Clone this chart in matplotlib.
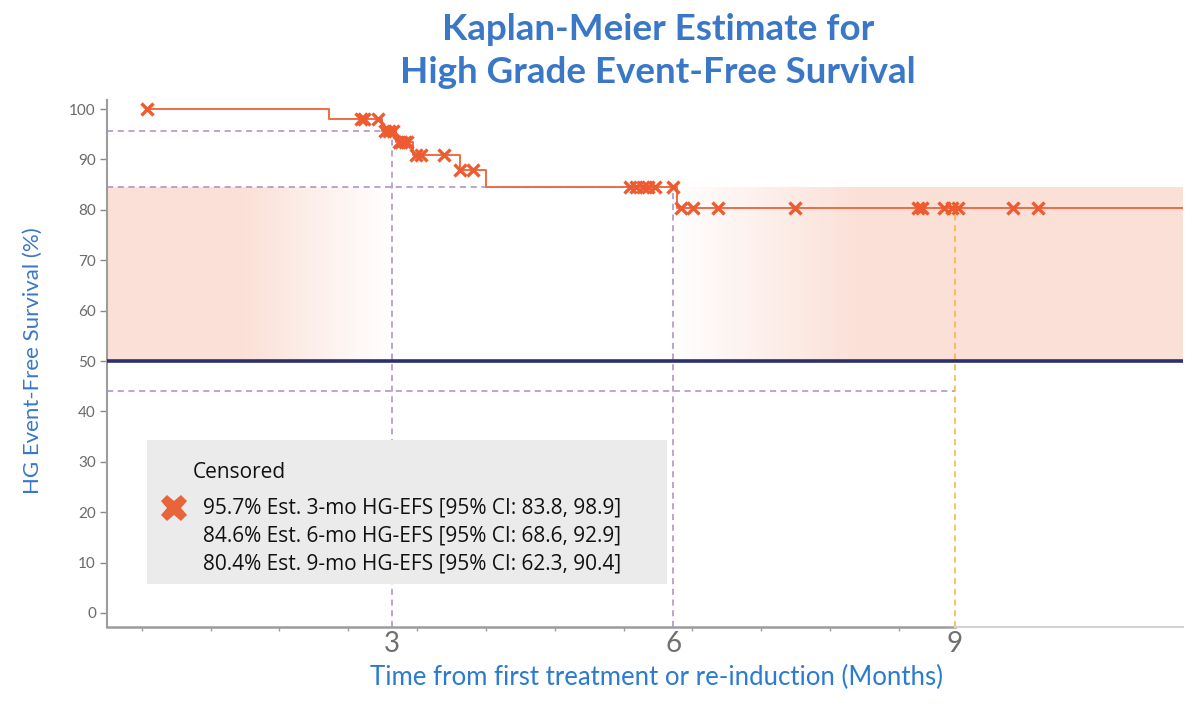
import numpy as np
import matplotlib
matplotlib.use("Agg")
import matplotlib.pyplot as plt
from matplotlib.patches import Rectangle

plt.rcParams["font.family"] = ["Lato", "DejaVu Sans"]

# Kaplan-Meier step curve (months, %)
step_times = [0.39, 2.33, 2.89, 3.04, 3.22, 3.72, 4.00, 6.04, 11.43]
step_surv = [100.0, 98.0, 95.7, 93.4, 90.8, 87.9, 84.6, 80.4, 80.4]

# censored observations (months)
cens_times = [0.39,
              2.67, 2.70, 2.85,
              2.93, 2.97, 3.01,
              3.07, 3.10, 3.14, 3.16,
              3.26, 3.31, 3.55,
              3.73, 3.86,
              5.54, 5.60, 5.67, 5.73, 5.80, 5.99,
              6.08, 6.21, 6.47, 7.30, 8.61, 8.65, 8.88, 8.97, 9.03, 9.62, 9.88]

# landmark estimates
mark_months = [3, 6, 9]
mark_est = [95.7, 84.6, 80.4]
lower_ref = 44.0
median_ref = 50.0
band_top = 84.6

legend_lines = ["95.7% Est. 3-mo HG-EFS [95% CI: 83.8, 98.9]",
                "84.6% Est. 6-mo HG-EFS [95% CI: 68.6, 92.9]",
                "80.4% Est. 9-mo HG-EFS [95% CI: 62.3, 90.4]"]

minor_x = [0.333 + 0.7335 * i for i in range(12)]

ORANGE = "#ee5b30"
LINE = "#f06a45"
PURPLE = "#a98bc4"
AMBER = "#f5b43a"
NAVY = "#2d2f6e"
PINK = "#fbe0d7"
BLUE = "#3a77c7"
TICK = "#6a6a6a"

XMIN, XMAX = -0.037, 11.43
YMIN, YMAX = -2.78, 101.8

fig = plt.figure(figsize=(12, 7.06), dpi=100, facecolor="white")
ax = fig.add_axes([107 / 1200, 1 - 627 / 706, (1183 - 107) / 1200, 527 / 706])
ax.set_xlim(XMIN, XMAX)
ax.set_ylim(YMIN, YMAX)


def band(x0, x1, ramp0, ramp1, rising):
    """Pink band between 50 and band_top; alpha ramps between ramp0 and ramp1."""
    edges = np.linspace(x0, x1, 241)
    for a, b in zip(edges[:-1], edges[1:]):
        t = np.clip(((a + b) / 2 - ramp0) / (ramp1 - ramp0), 0, 1)
        alpha = t if rising else 1 - t
        if alpha <= 0:
            continue
        ax.fill_between([a, b], median_ref, band_top, color=PINK, alpha=alpha,
                        linewidth=0, zorder=1)


band(XMIN, mark_months[0], 1.4, 3.0, rising=False)
band(mark_months[1] - 0.05, XMAX, 5.95, 8.0, rising=True)

ax.axhline(median_ref, color=NAVY, linewidth=2.6, zorder=3)

# landmark guide lines
dash = dict(linewidth=1.1, linestyle=(0, (4, 3)), zorder=2)
ax.plot([XMIN, mark_months[0]], [mark_est[0]] * 2, color=PURPLE, **dash)
ax.plot([XMIN, mark_months[1]], [mark_est[1]] * 2, color=PURPLE, **dash)
ax.plot([XMIN, mark_months[2]], [lower_ref] * 2, color=PURPLE, **dash)
ax.plot([mark_months[0]] * 2, [YMIN, mark_est[0]], color=PURPLE, **dash)
ax.plot([mark_months[1]] * 2, [YMIN, mark_est[1]], color=PURPLE, **dash)
ax.plot([mark_months[2]] * 2, [YMIN, mark_est[2]], color=AMBER, **dash)

# KM curve + censor ticks
ax.step(step_times, step_surv, where="post", color=LINE, linewidth=1.4, zorder=5)
idx = np.searchsorted(step_times, cens_times, side="right") - 1
cens_surv = np.array(step_surv)[idx]
ax.plot(cens_times, cens_surv, linestyle="none", marker="x", markersize=8,
        markeredgewidth=2.4, color=ORANGE, zorder=6)

# legend box
bx0, by0 = (147 - 107) / 1076, (627 - 584) / 527
bx1, by1 = (667 - 107) / 1076, (627 - 440) / 527
ax.add_patch(Rectangle((bx0, by0), bx1 - bx0, by1 - by0, transform=ax.transAxes,
                       facecolor="#ebebeb", edgecolor="none", zorder=7))


def fx(px):
    return (px - 107) / 1076


def fy(py):
    return (627 - py) / 527


LEG_FONT = ["Open Sans", "DejaVu Sans"]
ax.text(fx(193), fy(472), "Censored", transform=ax.transAxes, fontsize=15,
        family=LEG_FONT, color="#111111", va="center", ha="left", zorder=8)
ax.plot([fx(174)], [fy(508)], transform=ax.transAxes, marker="X", markersize=19,
        color="#e8643a", markeredgewidth=0, zorder=8)
for i, s in enumerate(legend_lines):
    ax.text(fx(203), fy(508 + 28 * i), s, transform=ax.transAxes, fontsize=15,
            family=LEG_FONT, color="#111111", va="center", ha="left", zorder=8)

# axes styling
for side in ("top", "right"):
    ax.spines[side].set_visible(False)
ax.spines["left"].set_color("#9c9c9c")
ax.spines["left"].set_linewidth(1.5)
ax.spines["bottom"].set_color("#9c9c9c")
ax.spines["bottom"].set_linewidth(1.8)
ax.spines["bottom"].set_bounds(XMIN, mark_months[2])
ax.plot([mark_months[2], XMAX], [YMIN, YMIN], color="#d2d2d2", linewidth=1.5,
        clip_on=False, zorder=4)

ax.set_yticks(range(0, 101, 10))
ax.tick_params(axis="y", colors="#8a8a8a", labelcolor=TICK, labelsize=11,
               length=5, width=1, pad=3)
ax.set_xticks(mark_months)
ax.set_xticklabels([str(m) for m in mark_months])
ax.set_xticks(minor_x, minor=True)
ax.tick_params(axis="x", which="major", length=0, labelsize=20, labelcolor="#707070", pad=3)
ax.tick_params(axis="x", which="minor", length=3, width=1, colors="#9c9c9c")

fig.text(33 / 1200, 1 - 361 / 706, "HG Event-Free Survival (%)", rotation=90,
         fontsize=16, color=BLUE, ha="center", va="center")
fig.text(657 / 1200, 1 - 677 / 706, "Time from first treatment or re-induction (Months)",
         fontsize=18.5, color="#2b7bd2", ha="center", va="center")

fig.text(658 / 1200, 1 - 40 / 706, "Kaplan-Meier Estimate for", fontsize=26.5,
         fontweight="bold", color=BLUE, ha="center", va="baseline")
fig.text(658 / 1200, 1 - 83 / 706, "High Grade Event-Free Survival", fontsize=26.5,
         fontweight="bold", color=BLUE, ha="center", va="baseline")

fig.savefig("out.png", dpi=100, facecolor="white")
